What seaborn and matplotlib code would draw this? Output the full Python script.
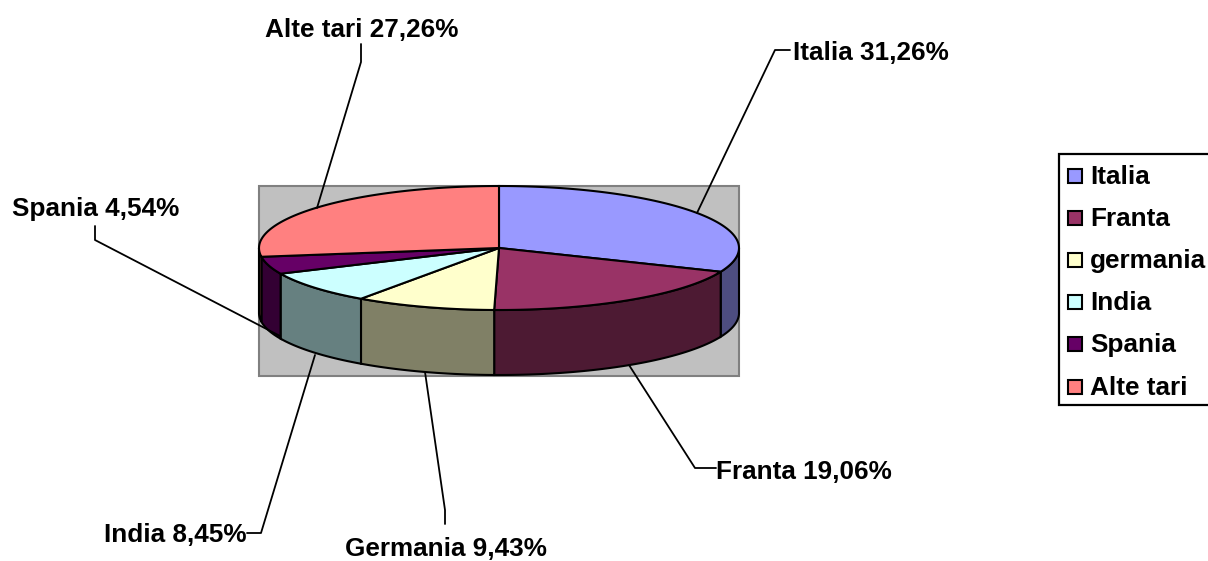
import numpy as np
import seaborn as sns
import matplotlib.pyplot as plt
from matplotlib.patches import Rectangle

# === Data ===
names = ["Italia", "Franta", "germania", "India", "Spania", "Alte tari"]
label_names = ["Italia", "Franta", "Germania", "India", "Spania", "Alte tari"]
shares = [31.26, 19.06, 9.43, 8.45, 4.54, 27.26]
label_texts = ["31,26%", "19,06%", "9,43%", "8,45%", "4,54%", "27,26%"]
top_colors = ["#9999FF", "#993366", "#FFFFCC", "#CCFFFF", "#660066", "#FF8080"]
side_colors = ["#4D4D80", "#4D1A33", "#808066", "#668080", "#330033", "#804040"]

# === Setup ===
sns.set_theme(style="white")
plt.rcParams["font.family"] = ["Liberation Sans", "DejaVu Sans"]
fig = plt.figure(figsize=(12.08, 5.61), dpi=100)
ax = fig.add_axes([0, 0, 1, 1])
ax.set_xlim(0, 1208)
ax.set_ylim(561, 0)
ax.axis("off")

# pie geometry in pixels
cx, cy, rx, ry, depth = 499, 248, 240, 62, 65
ax.add_patch(Rectangle((259, 186), 480, 190, fc="#C0C0C0", ec="#808080", lw=1.5, zorder=1))

def rim(a, b):
    t = np.radians(np.linspace(a, b, 120))
    return cx + rx * np.sin(t), cy - ry * np.cos(t)

edges = np.concatenate([[0], np.cumsum(shares)]) / sum(shares) * 360

# sides, only the front half of the ellipse is visible
for i in range(len(shares)):
    a, b = max(edges[i], 90), min(edges[i + 1], 270)
    if a >= b:
        continue
    x, y = rim(a, b)
    ax.fill(np.r_[x, x[::-1]], np.r_[y, y[::-1] + depth], fc=side_colors[i], ec="black", lw=1.5, zorder=2)

# top faces
for i in range(len(shares)):
    x, y = rim(edges[i], edges[i + 1])
    ax.fill(np.r_[cx, x], np.r_[cy, y], fc=top_colors[i], ec="black", lw=1.5, zorder=3)

# === Leader lines and labels ===
leaders = [
    [(697, 213), (775, 50), (790, 50)],
    [(629, 365), (695, 468), (716, 468)],
    [(425, 372), (445, 510), (445, 524)],
    [(315, 355), (261, 533), (247, 533)],
    [(280, 336), (95, 240), (95, 226)],
    [(317, 208), (361, 62), (361, 44)],
]
label_pos = [(871, 53), (804, 472), (446, 549), (175, 535), (96, 209), (362, 30)]
for i, (pts, pos) in enumerate(zip(leaders, label_pos)):
    xs, ys = zip(*pts)
    ax.plot(xs, ys, color="black", lw=1.3, zorder=4)
    ax.text(pos[0], pos[1], f"{label_names[i]} {label_texts[i]}", ha="center", va="center",
            fontsize=18.8, fontweight="bold", color="black", zorder=5)

# === Legend ===
ax.add_patch(Rectangle((1059, 154), 160, 251, fc="white", ec="black", lw=1.6, zorder=2, clip_on=True))
for i, name in enumerate(names):
    y = 175.5 + i * 42.2
    ax.add_patch(Rectangle((1068, y - 7), 14, 14, fc=top_colors[i], ec="black", lw=1.5, zorder=3))
    ax.text(1090, y + 1, name, ha="left", va="center", fontsize=18.8, fontweight="bold", color="black", zorder=3)

# === Save ===
fig.savefig("out.png", dpi=100)
plt.close(fig)
